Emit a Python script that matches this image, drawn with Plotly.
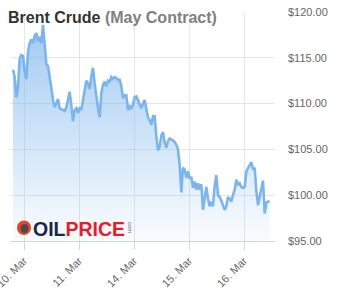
import plotly.graph_objects as go

# ---- data ----
tick_labels = ["10. Mar", "11. Mar", "14. Mar", "15. Mar", "16. Mar"]
tick_positions = [0, 1, 2, 3, 4]          # trading-day index of each label
start_day = -0.2                          # first sample (trading days from 10. Mar)
step_day = 1 / 33                         # sampling interval in trading days
prices = [
    113.7, 112.9, 110.7, 111.8, 114.9, 115.3, 115.2, 113.5, 112.7, 115.6,
    116.6, 117.0, 116.6, 117.4, 117.7, 116.8, 117.3, 116.6, 118.6, 116.0,
    114.3, 114.1, 112.6, 111.7, 110.4, 109.6, 110.0, 110.5, 109.5, 109.4,
    109.3, 109.2, 109.6, 110.4, 111.3, 109.8, 108.1, 109.3, 109.5, 109.0,
    109.6, 109.3, 110.5, 111.6, 112.5, 112.2, 111.6, 113.0, 113.9, 112.2,
    110.5, 109.5, 108.5, 111.2, 112.0, 112.4, 111.9, 112.5, 112.4, 112.9,
    112.7, 112.9, 112.8, 112.6, 112.6, 111.9, 110.6, 110.9, 110.9, 109.3,
    109.7, 109.5, 109.9, 110.7, 110.8, 110.4, 110.0, 109.5, 110.0, 110.4,
    109.4, 108.5, 108.2, 107.7, 108.6, 108.6, 106.4, 104.9, 105.3, 106.5,
    106.9, 105.7, 105.2, 105.9, 106.2, 106.1, 106.0, 105.8, 105.5, 105.0,
    103.3, 100.3, 103.0, 102.8, 101.9, 102.6, 101.8, 102.0, 100.8, 101.5,
    100.6, 101.3, 100.6, 101.2, 98.4, 99.7, 100.9, 99.6, 98.8, 99.3,
    98.8, 101.0, 102.2, 100.0, 99.8, 99.4, 98.9, 98.4, 98.8, 99.8,
    99.6, 99.3, 100.0, 100.6, 101.7, 101.1, 101.3, 100.9, 100.8, 100.9,
    102.6, 102.9, 103.2, 103.6, 102.8, 103.0, 100.5, 98.9, 99.8, 100.7,
    101.6, 98.0, 99.2, 99.3, 99.3,
]
y_ticks = [95, 100, 105, 110, 115, 120]
y_tick_labels = ["$%.2f" % v for v in y_ticks]

times = [start_day + i * step_day for i in range(len(prices))]

W, H = 345, 300
L, R, T, B = 10, 70, 12, 59
pw, ph = W - L - R, H - T - B


def px(xp):
    return (xp - L) / pw


def py(yp):
    return (H - B - yp) / ph


fig = go.Figure()
fig.add_trace(go.Scatter(
    x=times, y=prices, mode="lines",
    line=dict(color="#7cb5ec", width=2.6),
    fill="tozeroy",
    fillgradient=dict(type="vertical", start=95, stop=120,
                      colorscale=[[0, "rgba(124,181,236,0.04)"],
                                  [1, "rgba(124,181,236,0.75)"]]),
    hoverinfo="skip",
))

font_family = "Liberation Sans, Arial, sans-serif"

fig.update_layout(
    width=W, height=H,
    margin=dict(l=L, r=R, t=T, b=B, pad=0, autoexpand=False),
    paper_bgcolor="white", plot_bgcolor="white",
    showlegend=False,
    font=dict(family=font_family, size=11, color="#666666"),
    xaxis=dict(
        range=[-14 / 55, 251 / 55],
        tickvals=tick_positions, ticktext=tick_labels,
        tickangle=-45,
        ticklabeloverflow="allow",
        automargin=False,
        showgrid=True, gridcolor="#e6e6e6", gridwidth=1,
        showline=True, linecolor="#ccd6eb", linewidth=1,
        ticks="outside", ticklen=8, tickcolor="#ccd6eb",
        zeroline=False,
        tickfont=dict(size=11, color="#666666"),
    ),
    yaxis=dict(
        side="right", range=[95, 120],
        tickvals=y_ticks, ticktext=y_tick_labels,
        automargin=False,
        showgrid=True, gridcolor="#e6e6e6", gridwidth=1,
        zeroline=False, showline=False, ticks="",
        ticklabelstandoff=12,
        tickfont=dict(size=11, color="#666666"),
    ),
    annotations=[
        dict(xref="paper", yref="paper", x=px(6), y=py(17),
             xanchor="left", yanchor="middle", showarrow=False,
             text="<b><span style='color:#333333'>Brent Crude</span> "
                  "<span style='color:#808080'>(May Contract)</span></b>",
             font=dict(size=16, family=font_family)),
        dict(xref="paper", yref="paper", x=px(30.5), y=py(228.5),
             xanchor="left", yanchor="middle", showarrow=False,
             text="<b><span style='color:#1e2544'>OIL</span>"
                  "<span style='color:#e3202a'>PRICE</span></b>",
             font=dict(size=19.5, family=font_family)),
        dict(xref="paper", yref="paper", x=px(130.5), y=py(227.5),
             xanchor="center", yanchor="middle", showarrow=False,
             textangle=90, text="com",
             font=dict(size=6, color="#666666", family=font_family)),
    ],
    shapes=[
        dict(type="circle", xref="paper", yref="paper",
             x0=px(17), x1=px(31), y0=py(235), y1=py(220.5),
             fillcolor="#e2472c", line=dict(width=0)),
        dict(type="circle", xref="paper", yref="paper",
             x0=px(20.5), x1=px(28.5), y0=py(233), y1=py(224),
             fillcolor="#4a4a4a", line=dict(width=0)),
    ],
)

fig.write_html("out.html")
